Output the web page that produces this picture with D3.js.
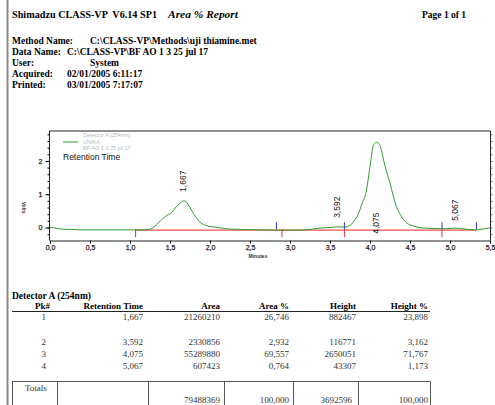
<!DOCTYPE html>
<html>
<head>
<meta charset="utf-8">
<script src="https://cdn.jsdelivr.net/npm/d3@7"></script>
<style>
  body { margin: 0; background: #fff; }
  svg { display: block; }
</style>
</head>
<body>
<div id="chart"></div>
<script>
// chromatogram trace, minutes / volts
var traceT = [0.00, 0.05, 0.10, 0.15, 0.30, 0.40, 0.80, 1.20, 1.25, 1.29, 1.33, 1.38, 1.44, 1.52, 1.58, 1.62, 1.667, 1.70, 1.73, 1.79, 1.84, 1.875, 1.93, 2.00, 2.10, 2.21, 2.30, 2.40, 2.60, 2.90, 3.10, 3.20, 3.30, 3.40, 3.50, 3.60, 3.68, 3.72, 3.76, 3.80, 3.85, 3.90, 3.95, 4.00, 4.04, 4.08, 4.11, 4.14, 4.17, 4.21, 4.25, 4.29, 4.33, 4.38, 4.42, 4.46, 4.50, 4.55, 4.60, 4.70, 4.80, 4.90, 5.00, 5.07, 5.15, 5.25, 5.33, 5.40, 5.50];
var traceV = [0.00, -0.01, -0.03, -0.05, -0.06, -0.07, -0.07, -0.07, -0.05, 0.00, 0.08, 0.20, 0.33, 0.45, 0.63, 0.72, 0.80, 0.78, 0.68, 0.43, 0.26, 0.16, 0.08, 0.03, 0.00, -0.04, -0.05, -0.06, -0.07, -0.08, -0.08, -0.07, -0.04, -0.01, 0.00, 0.02, 0.01, 0.03, 0.08, 0.20, 0.38, 0.72, 1.05, 1.83, 2.45, 2.56, 2.52, 2.35, 2.03, 1.65, 1.34, 0.95, 0.63, 0.38, 0.23, 0.14, 0.08, 0.04, 0.01, -0.02, -0.03, -0.04, -0.03, -0.02, -0.04, -0.06, -0.07, -0.05, -0.01];

var peakLabels = ["1,667", "3,592", "4,075", "5,067"];
var peakTimes = [1.667, 3.592, 4.075, 5.067];
var peakLabelV = [1.07, 0.29, -0.19, 0.20];

var baseStart = 1.07, baseEnd = 5.33, baseV = -0.08;
var redMarks = [1.07, 2.90, 3.68, 4.90];
var blueMarks = [2.83, 3.68, 4.90, 5.33];

var xTicks = [0, 0.5, 1, 1.5, 2, 2.5, 3, 3.5, 4, 4.5, 5, 5.5];
var yTicks = [0, 1, 2];

var legendLines = ["Detector A (254nm)", "UNIKA", "BF AO 1 3 25 jul 17"];

var headerLines = [
  ["Method Name:", "C:\\CLASS-VP\\Methods\\uji thiamine.met", 90],
  ["Data Name:", "C:\\CLASS-VP\\BF AO 1 3 25 jul 17", 67],
  ["User:", "System", 90],
  ["Acquired:", "02/01/2005 6:11:17", 67],
  ["Printed:", "03/01/2005 7:17:07", 67]
];

var colNames = ["Pk#", "Retention Time", "Area", "Area %", "Height", "Height %"];
var colRight = [50, 143, 220, 289, 356, 428];
var rowPk = ["1", "2", "3", "4"];
var rowRT = ["1,667", "3,592", "4,075", "5,067"];
var rowArea = ["21260210", "2330856", "55289880", "607423"];
var rowAreaPct = ["26,746", "2,932", "69,557", "0,764"];
var rowHeight = ["882467", "116771", "2650051", "43307"];
var rowHeightPct = ["23,898", "3,162", "71,767", "1,173"];
var rowY = [320, 345, 357, 369];
var totals = ["", "", "79488369", "100,000", "3692596", "100,000"];

var W = 495, H = 405;
var serif = "'Liberation Serif', 'Times New Roman', serif";
var sans = "'Liberation Sans', Arial, sans-serif";

var svg = d3.select("#chart").append("svg").attr("width", W).attr("height", H);

// page edge
svg.append("line").attr("x1", 7.5).attr("x2", 7.5).attr("y1", 0).attr("y2", H)
   .attr("stroke", "#8a8a8a").attr("stroke-width", 2);

// report header
svg.append("text").attr("x", 12).attr("y", 18).text("Shimadzu CLASS-VP  V6.14 SP1")
   .attr("textLength", 145).attr("lengthAdjust", "spacingAndGlyphs").attr("xml:space", "preserve")
   .style("font-family", serif).style("font-size", "11px").style("font-weight", "bold");
svg.append("text").attr("x", 168).attr("y", 18).text("Area % Report")
   .attr("textLength", 70).attr("lengthAdjust", "spacingAndGlyphs")
   .style("font-family", serif).style("font-size", "11px").style("font-weight", "bold").style("font-style", "italic");

svg.append("text").attr("x", 422).attr("y", 18).text("Page 1 of 1")
   .style("font-family", serif).style("font-size", "9.5px").style("font-weight", "bold");

headerLines.forEach(function(d, i) {
  var y = 44 + i * 11;
  svg.append("text").attr("x", 12).attr("y", y).text(d[0])
     .style("font-family", serif).style("font-size", "9.5px").style("font-weight", "bold");
  svg.append("text").attr("x", d[2]).attr("y", y).text(d[1])
     .style("font-family", serif).style("font-size", "9.5px").style("font-weight", "bold");
});

// chart
var plot = {left: 49.5, right: 490.5, top: 131, bottom: 240.5};
var x = d3.scaleLinear().domain([0, 5.5]).range([50, 490]);
var y = d3.scaleLinear().domain([-0.39, 2.9]).range([plot.bottom, plot.top]);

var g = svg.append("g");

// frame
g.append("path")
 .attr("d", "M" + plot.left + "," + plot.bottom + "V" + plot.top + "H" + plot.right + "V" + plot.bottom)
 .attr("fill", "none").attr("stroke", "#222").attr("stroke-width", 1);

var xAxis = g.append("g").attr("transform", "translate(0," + plot.bottom + ")")
  .call(d3.axisBottom(x).tickValues(xTicks).tickSize(3).tickPadding(2)
        .tickFormat(function(d) { return d3.format(".1f")(d).replace(".", ","); }));
xAxis.select(".domain").attr("stroke", "#222");
xAxis.selectAll("text").style("font-family", sans).style("font-size", "7px")
     .attr("fill", "#222").attr("stroke", "#222").attr("stroke-width", 0.25);

var minorY = d3.range(-0.2, 2.81, 0.2);
var yAxis = g.append("g").attr("transform", "translate(" + plot.left + ",0)")
  .call(d3.axisLeft(y).tickValues(yTicks).tickSize(4).tickPadding(3).tickFormat(d3.format("d")));
yAxis.select(".domain").remove();
yAxis.selectAll("text").style("font-family", sans).style("font-size", "7px")
     .attr("fill", "#222").attr("stroke", "#222").attr("stroke-width", 0.25);
g.append("g").attr("transform", "translate(" + plot.left + ",0)")
  .call(d3.axisLeft(y).tickValues(minorY).tickSize(2).tickFormat(""))
  .select(".domain").remove();
var yRight = g.append("g").attr("transform", "translate(" + plot.right + ",0)")
  .call(d3.axisRight(y).tickValues(minorY).tickSize(2).tickFormat(""));
yRight.select(".domain").remove();
yRight.selectAll("line").attr("stroke", "#666");

g.append("text").attr("transform", "translate(22," + (y(0.6)) + ") rotate(90)")
 .attr("text-anchor", "middle").text("Volts")
 .style("font-family", sans).style("font-size", "5px").style("font-weight", "bold").attr("fill", "#333");

g.append("text").attr("x", 258).attr("y", 258).attr("text-anchor", "middle").text("Minutes")
 .style("font-family", sans).style("font-size", "5px").style("font-weight", "bold").attr("fill", "#333");

// baseline
g.append("line").attr("x1", x(baseStart)).attr("x2", x(baseEnd))
 .attr("y1", y(baseV)).attr("y2", y(baseV))
 .attr("stroke", "#f05050").attr("stroke-width", 1.2);

// trace
var pts = traceT.map(function(t, i) { return [t, traceV[i]]; });
g.append("path").datum(pts)
 .attr("d", d3.line().x(function(d) { return x(d[0]); }).y(function(d) { return y(d[1]); }).curve(d3.curveMonotoneX))
 .attr("fill", "none").attr("stroke", "#2e9e2e").attr("stroke-width", 1);

g.selectAll(".red").data(redMarks).enter().append("line")
 .attr("x1", function(d) { return x(d); }).attr("x2", function(d) { return x(d); })
 .attr("y1", y(baseV) - 1).attr("y2", y(baseV) + 7)
 .attr("stroke", "#e03030").attr("stroke-width", 1);
g.selectAll(".blue").data(blueMarks).enter().append("line")
 .attr("x1", function(d) { return x(d); }).attr("x2", function(d) { return x(d); })
 .attr("y1", y(baseV) - 8).attr("y2", y(baseV) - 1)
 .attr("stroke", "#3030d0").attr("stroke-width", 1);

// peak labels
g.selectAll(".plab").data(peakLabels).enter().append("text")
 .attr("transform", function(d, i) { return "translate(" + (x(peakTimes[i]) + 3) + "," + y(peakLabelV[i]) + ") rotate(-90)"; })
 .text(function(d) { return d; })
 .style("font-family", sans).style("font-size", "8.5px").attr("fill", "#111");

// legend
g.append("line").attr("x1", 63).attr("x2", 78).attr("y1", 142).attr("y2", 142)
 .attr("stroke", "#2e9e2e").attr("stroke-width", 1);
legendLines.forEach(function(t, i) {
  g.append("text").attr("x", 83).attr("y", 137 + i * 6.5).text(t)
   .style("font-family", sans).style("font-size", "5.5px").attr("fill", "#b8b8b8");
});
g.append("text").attr("x", 63).attr("y", 160).text("Retention Time")
 .style("font-family", sans).style("font-size", "8.5px").attr("fill", "#111");

// results table
svg.append("text").attr("x", 12).attr("y", 299).text("Detector A (254nm)")
   .style("font-family", serif).style("font-size", "9.5px").style("font-weight", "bold");

colNames.forEach(function(c, i) {
  svg.append("text").attr("x", colRight[i]).attr("y", 309).attr("text-anchor", "end").text(c)
     .style("font-family", serif).style("font-size", "9px").style("font-weight", "bold");
});
svg.append("line").attr("x1", 12).attr("x2", 430).attr("y1", 311.5).attr("y2", 311.5)
   .attr("stroke", "#222").attr("stroke-width", 1);

var cols = [rowPk, rowRT, rowArea, rowAreaPct, rowHeight, rowHeightPct];
cols.forEach(function(col, ci) {
  col.forEach(function(v, ri) {
    svg.append("text").attr("x", colRight[ci] - (ci === 0 ? 4 : 0)).attr("y", rowY[ri])
       .attr("text-anchor", "end").text(v)
       .style("font-family", serif).style("font-size", "9px").attr("fill", "#333");
  });
});

// totals box
var boxTop = 381.5, boxDiv = [12, 57, 148, 224, 293, 358, 430];
svg.append("line").attr("x1", 12).attr("x2", 430).attr("y1", boxTop).attr("y2", boxTop)
   .attr("stroke", "#555").attr("stroke-width", 1);
boxDiv.forEach(function(d) {
  svg.append("line").attr("x1", d + 0.5).attr("x2", d + 0.5).attr("y1", boxTop).attr("y2", H)
     .attr("stroke", "#555").attr("stroke-width", 1);
});
svg.append("text").attr("x", 25).attr("y", 391).text("Totals")
   .style("font-family", serif).style("font-size", "9px").attr("fill", "#333");
totals.forEach(function(v, i) {
  if (!v) return;
  svg.append("text").attr("x", colRight[i] - (i === 4 ? 4 : 0)).attr("y", 403).attr("text-anchor", "end").text(v)
     .style("font-family", serif).style("font-size", "9px").attr("fill", "#333");
});
</script>
</body>
</html>
